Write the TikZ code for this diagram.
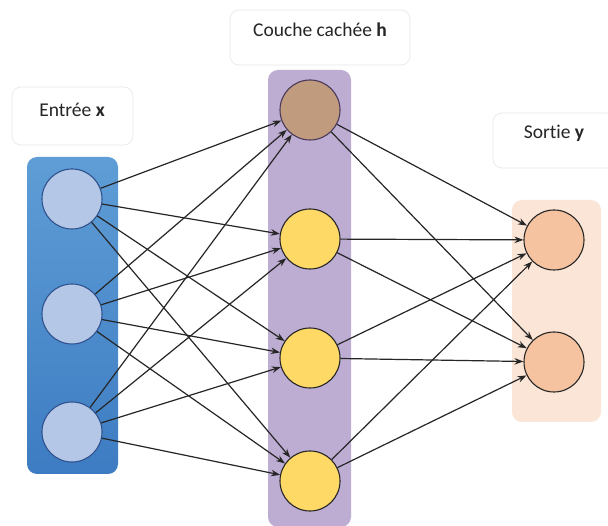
\documentclass[tikz,border=0pt]{standalone}
\usepackage{fontspec}
\setmainfont{Carlito}[Ligatures=NoCommon]
\usetikzlibrary{arrows.meta}
\definecolor{inTop}{HTML}{5F9DD6}
\definecolor{inBot}{HTML}{3D7CC2}
\definecolor{inFill}{HTML}{B4C7E7}
\definecolor{inLine}{HTML}{2F528F}
\definecolor{hidBg}{HTML}{BEADD3}
\definecolor{brownFill}{HTML}{C19B7E}
\definecolor{brownLine}{HTML}{4A3A5A}
\definecolor{yelFill}{HTML}{FFD966}
\definecolor{outBg}{HTML}{FBE5D6}
\definecolor{outFill}{HTML}{F5C3A0}
\definecolor{boxLine}{HTML}{E6E6E6}
\begin{document}
\begin{tikzpicture}[x=1pt,y=-1pt,
  neuron/.style={circle, minimum size=60pt, inner sep=0pt, line width=1.1pt},
  inneuron/.style={neuron, draw=inLine, fill=inFill},
  brownneuron/.style={neuron, draw=brownLine, fill=brownFill},
  yelneuron/.style={neuron, draw=black!85, fill=yelFill},
  outneuron/.style={neuron, draw=black!85, fill=outFill},
  labelbox/.style={draw=boxLine, fill=white, rounded corners=9pt, line width=0.6pt},
  labeltext/.style={font=\fontsize{19.5}{23}\selectfont, text=black!85, inner sep=0pt},
  arr/.style={draw=black!85, line width=1.2pt, -{Stealth[length=9pt,width=6.5pt]}}]
\useasboundingbox (0,0) rectangle (608,526);
\fill[white] (0,0) rectangle (608,526);
% label boxes
\draw[labelbox] (12,87) rectangle (133,145);
\node[labeltext] (tx) at (72,110) {Entrée \textbf{x}};
\draw[labelbox] (230,10) rectangle (410,65);
\node[labeltext] (th) at (320,30) {Couche cachée \textbf{h}};
\draw[labelbox] (493,113) rectangle (616,168);
\node[labeltext] (ty) at (554,133) {Sortie \textbf{y}};
% layer backgrounds
\shade[top color=inTop, bottom color=inBot, rounded corners=10pt] (27,157) rectangle (118,474);
\fill[hidBg, rounded corners=10pt] (268,70) rectangle (351,527);
\fill[outBg, rounded corners=10pt] (512,200) rectangle (601,422);
% neurons
\node[inneuron] (i1) at (72,199) {};
\node[inneuron] (i2) at (72,314) {};
\node[inneuron] (i3) at (72,432) {};
\node[brownneuron] (h1) at (310,110) {};
\node[yelneuron] (h2) at (310,239) {};
\node[yelneuron] (h3) at (310,358) {};
\node[yelneuron] (h4) at (310,481) {};
\node[outneuron] (o1) at (554,240) {};
\node[outneuron] (o2) at (554,362) {};
% connections input -> hidden
\foreach \i in {i1,i2,i3}
  \foreach \h in {h1,h2,h3,h4}
    \draw[arr] (\i) -- (\h);
% connections hidden -> output
\foreach \h in {h1,h2,h3,h4}
  \foreach \o in {o1,o2}
    \draw[arr] (\h) -- (\o);
\end{tikzpicture}
\end{document}
